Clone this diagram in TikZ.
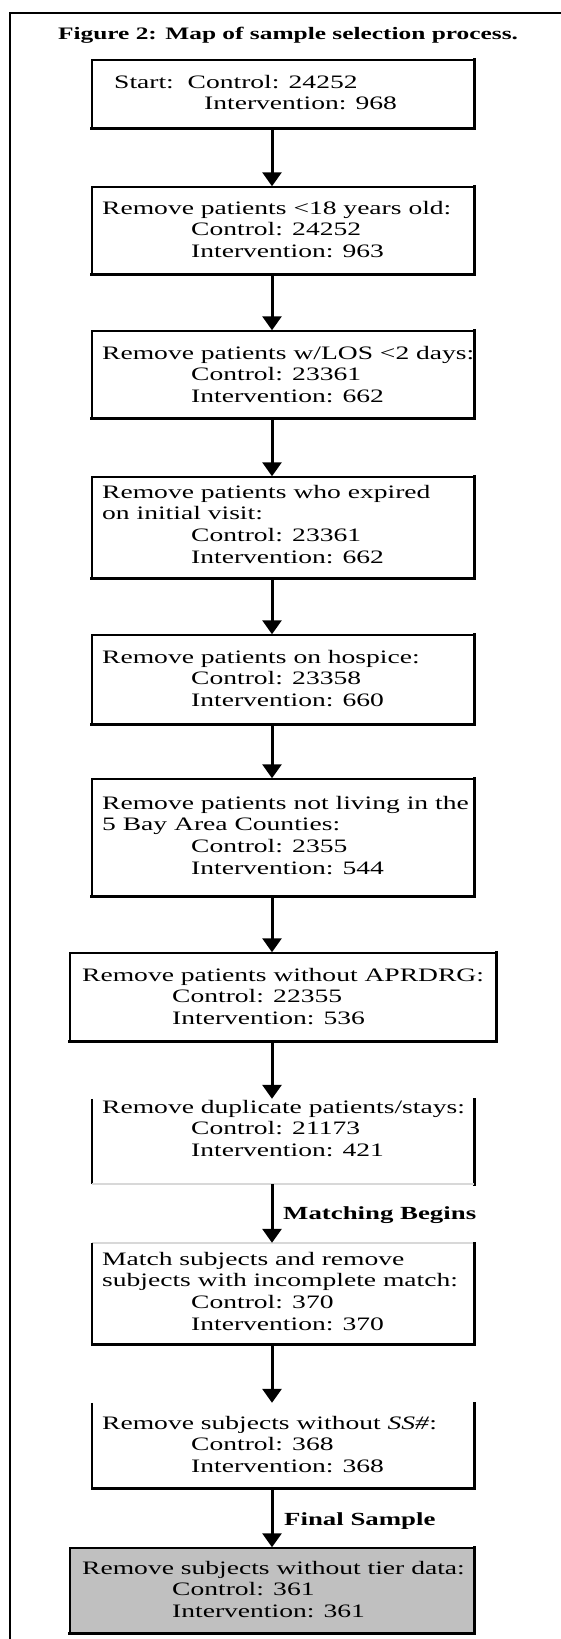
\documentclass[tikz,border=0pt]{standalone}
\usepackage{fontspec}
\setmainfont{Liberation Serif}[FakeStretch=1.45]
\usetikzlibrary{arrows.meta}
\definecolor{boxgray}{HTML}{C0C0C0}
\definecolor{faint}{HTML}{D8D8D8}
\begin{document}
\begin{tikzpicture}[x=1pt,y=-1pt,
  box/.style={draw=black, line width=1.5pt, minimum width=382pt, inner sep=0pt},
  openbox/.style={draw=none, minimum width=382pt, inner sep=0pt},
  edge/.style={line width=1.8pt},
  heavy/.style={line width=2.6pt, line cap=rect},
  txt/.style={anchor=north west, inner sep=0pt, align=left, font=\fontsize{19}{21.7}\selectfont},
  arr/.style={line width=3pt, -{Triangle[width=19pt,length=14pt]}},
  lbl/.style={anchor=base west, inner sep=0pt, font=\fontsize{18.5}{20}\selectfont\bfseries}]
\useasboundingbox (0,0) rectangle (561,1639);
% outer frame (only top and left edges visible)
\draw[line width=2.5pt] (10,1645) -- (10,13) -- (570,13);
\node[anchor=base, inner sep=0pt, font=\fontsize{17.5}{20}\selectfont\bfseries] (title) at (288,39) {Figure 2: Map of sample selection process.};
\coordinate (ax) at (272,0);
% boxes
\node[box, minimum height=68pt] (b1) at (283,94) {};
\node[box, minimum height=87pt] (b2) at (283,230.5) {};
\node[box, minimum height=87pt] (b3) at (283,374.5) {};
\node[box, minimum height=101pt] (b4) at (283,527.5) {};
\node[box, minimum height=89pt] (b5) at (283,679.5) {};
\node[box, minimum height=117pt] (b6) at (283,837.5) {};
\node[box, minimum height=88pt, minimum width=426pt] (b7) at (283,997) {};
\node[openbox, minimum height=85pt] (b8) at (283,1141.5) {};
\node[openbox, minimum height=101pt] (b9) at (283,1293.5) {};
\node[openbox, minimum height=85pt] (b10) at (283,1445.5) {};
\node[box, fill=boxgray, minimum height=85pt, minimum width=404pt] (b11) at (272,1590.5) {};
% heavier right and bottom edges
\foreach \b in {b1,b2,b3,b4,b5,b6,b7,b11}{
  \draw[heavy] (\b.south west) -- (\b.south east) -- (\b.north east);
}
% partial borders
\draw[edge] (b8.north west) -- (b8.south west);
\draw[heavy] (b8.north east) -- (b8.south east);
\draw[edge, draw=faint] (b8.south west) -- (b8.south east);
\draw[edge, draw=faint] (b9.north west) -- (b9.north east);
\draw[edge] (b9.north west) -- (b9.south west);
\draw[heavy] (b9.south west) -- (b9.south east) -- (b9.north east);
\draw[edge] (b10.north west) -- (b10.south west);
\draw[heavy] (b10.south west) -- (b10.south east) -- (b10.north east);
% texts
\node[txt] (t1) at (114,73) {\rule{0pt}{15pt}Start:\ \ Control: 24252\\\hspace*{90pt}Intervention: 968};
\node[txt] (t2) at (102,199) {\rule{0pt}{15pt}Remove patients <18 years old:\\\hspace*{89pt}Control: 24252\\\hspace*{89pt}Intervention: 963};
\node[txt] (t3) at (102,344) {\rule{0pt}{15pt}Remove patients w/LOS <2 days:\\\hspace*{89pt}Control: 23361\\\hspace*{89pt}Intervention: 662};
\node[txt] (t4) at (102,483) {\rule{0pt}{15pt}Remove patients who expired\\on initial visit:\\\hspace*{89pt}Control: 23361\\\hspace*{89pt}Intervention: 662};
\node[txt] (t5) at (102,648) {\rule{0pt}{15pt}Remove patients on hospice:\\\hspace*{89pt}Control: 23358\\\hspace*{89pt}Intervention: 660};
\node[txt] (t6) at (102,794) {\rule{0pt}{15pt}Remove patients not living in the\\5 Bay Area Counties:\\\hspace*{89pt}Control: 2355\\\hspace*{89pt}Intervention: 544};
\node[txt] (t7) at (82,966) {\rule{0pt}{15pt}Remove patients without APRDRG:\\\hspace*{90pt}Control: 22355\\\hspace*{90pt}Intervention: 536};
\node[txt] (t8) at (102,1098) {\rule{0pt}{15pt}Remove duplicate patients/stays:\\\hspace*{89pt}Control: 21173\\\hspace*{89pt}Intervention: 421};
\node[txt] (t9) at (102,1250) {\rule{0pt}{15pt}Match subjects and remove\\subjects with incomplete match:\\\hspace*{89pt}Control: 370\\\hspace*{89pt}Intervention: 370};
\node[txt] (t10) at (102,1414) {\rule{0pt}{15pt}Remove subjects without \textit{SS\#}:\\\hspace*{89pt}Control: 368\\\hspace*{89pt}Intervention: 368};
\node[txt] (t11) at (82,1559) {\rule{0pt}{15pt}Remove subjects without tier data:\\\hspace*{90pt}Control: 361\\\hspace*{90pt}Intervention: 361};
% labels
\node[lbl] (mb) at (283,1219) {Matching Begins};
\node[lbl] (fs) at (284,1525) {Final Sample};
% arrows
\draw[arr] (b1.south -| ax) -- (b2.north -| ax);
\draw[arr] (b2.south -| ax) -- (b3.north -| ax);
\draw[arr] (b3.south -| ax) -- (b4.north -| ax);
\draw[arr] (b4.south -| ax) -- (b5.north -| ax);
\draw[arr] (b5.south -| ax) -- (b6.north -| ax);
\draw[arr] (b6.south -| ax) -- (b7.north -| ax);
\draw[arr] (b7.south -| ax) -- (b8.north -| ax);
\draw[arr] (b8.south -| ax) -- (b9.north -| ax);
\draw[arr] (b9.south -| ax) -- (b10.north -| ax);
\draw[arr] (b10.south -| ax) -- (b11.north -| ax);
\end{tikzpicture}
\end{document}
